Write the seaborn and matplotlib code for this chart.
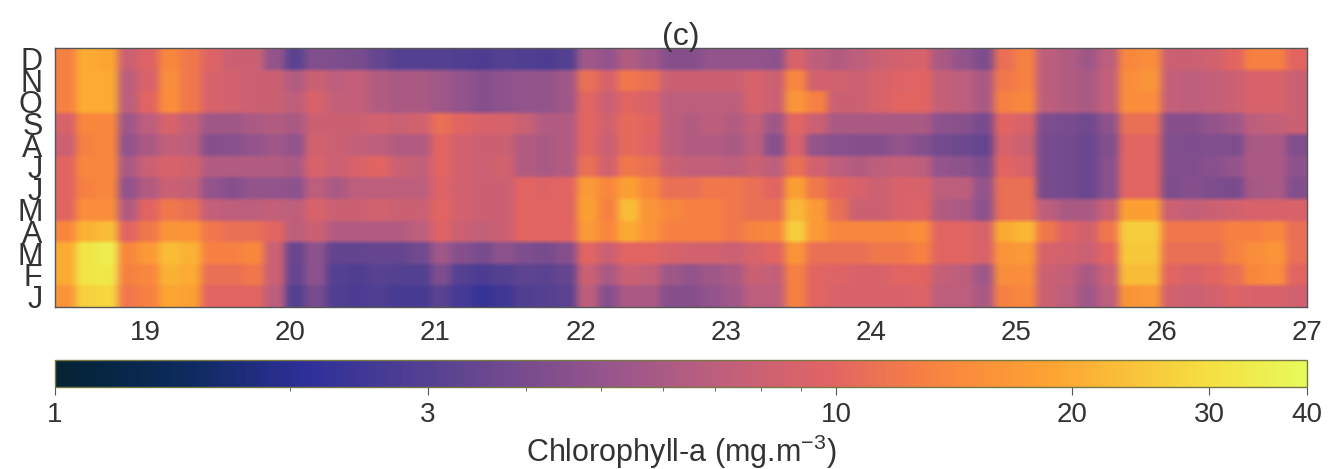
import seaborn as sns
import matplotlib.pyplot as plt
import pandas as pd
import numpy as np
from matplotlib.colors import LogNorm, LinearSegmentedColormap

months = ['D', 'N', 'O', 'S', 'A', 'J', 'J', 'M', 'A', 'M', 'F', 'J']
lat_ticks = [19, 20, 21, 22, 23, 24, 25, 26, 27]
lat_start = 18.38
lat_end = 27.0
cbar_ticks = [1, 3, 10, 20, 30, 40]

# one line per latitude band, months run D..J (top to bottom)
chl_bands = [
    [13, 13, 13, 9, 8, 10, 10, 10, 14, 20, 20, 16],
    [20, 20, 20, 14, 13, 14, 13, 15, 21, 32, 32, 27],
    [19, 20, 20, 14, 14, 14, 14, 15, 23, 35, 33, 28],
    [8, 7, 7, 5.5, 5, 6, 5, 6.5, 10, 14, 13, 12],
    [9.5, 9, 10, 7, 6, 8, 6.5, 10, 12, 17, 14, 13],
    [14, 15, 15, 9, 7.5, 9, 8, 12, 16, 23, 21, 19],
    [12, 12, 12, 7.5, 7, 8.5, 7.5, 11, 16, 21, 20, 18],
    [9.5, 9, 9, 5.5, 4.5, 6.5, 5, 7.5, 12, 13, 11, 10],
    [8, 8.5, 8.5, 5.5, 4.6, 6.5, 4.5, 7, 11, 13, 11, 10],
    [8, 8, 8, 6, 5, 6.5, 5, 7, 11, 14, 12, 10],
    [5, 8, 8, 6.5, 5.5, 6.5, 5, 7.5, 10, 8, 8, 7],
    [3.2, 6.5, 7, 6, 5, 6, 4.8, 7, 7, 3.6, 3.5, 3],
    [4.3, 8, 9, 8, 8.5, 9, 7, 9, 8, 4.8, 4.8, 4],
    [4.2, 7, 7.5, 8, 8, 8, 6, 8, 6.5, 3.4, 3, 2.9],
    [4, 7.5, 7.5, 8, 7.5, 9, 7, 8, 6.5, 3.4, 2.9, 2.8],
    [3.5, 6.5, 6.5, 8.5, 7, 10, 7, 8.5, 6.5, 3.5, 3.1, 2.9],
    [3, 6, 6, 8, 6.5, 8, 7, 8, 6.5, 3.5, 3, 2.7],
    [3, 6, 6, 8.5, 6.5, 7.5, 7, 8, 7, 3.8, 3, 2.7],
    [3, 5.5, 5.5, 11, 10, 10, 9.5, 10, 9.5, 5.5, 4.2, 3.2],
    [2.9, 5, 5, 10, 8.5, 8.5, 8.5, 8.5, 8, 4.5, 3, 2.6],
    [2.8, 4.5, 4.5, 9, 8, 8, 8, 8, 7.5, 4, 2.8, 2.3],
    [3, 4.8, 4.8, 9, 8, 8.5, 8, 8, 8, 4.8, 3, 2.5],
    [2.9, 5, 5, 8, 6.5, 6.5, 10, 10, 10, 4.2, 3.3, 2.9],
    [2.8, 5, 5, 6.5, 6, 6, 9.5, 10, 10, 4, 3.2, 3],
    [3, 5.5, 5.5, 6.5, 6.5, 6.5, 10, 10, 10, 4.5, 3.5, 3.2],
    [5.5, 11, 10, 10, 10, 11, 17, 18, 17, 10, 8, 7],
    [5, 9, 8, 8.5, 8, 8.5, 14, 13, 14, 8, 6, 4.5],
    [6.5, 12, 10, 10.5, 10.5, 12, 18, 23, 20, 10, 8, 6],
    [5.5, 11, 9, 10, 9.5, 11, 14, 16, 16, 10, 7.5, 6],
    [4.5, 8, 7, 7, 7, 8, 11, 14, 13, 9, 5.5, 4.5],
    [4.5, 8, 7, 6.5, 6.5, 7.5, 11, 13, 13, 8.5, 5, 4.5],
    [5, 8, 7, 7, 6.5, 7.5, 12, 13, 13, 8.5, 5.5, 5],
    [5, 8, 7, 6.5, 6, 7, 12, 12, 12, 8, 6, 5.5],
    [5, 9, 9, 7.5, 7, 8, 11, 11, 13.5, 9, 8, 7],
    [4.8, 8, 8, 5.5, 4.6, 7, 10, 11, 14, 10, 7.5, 7],
    [9, 14, 16, 10, 9, 11, 18, 22, 26, 16, 13, 13],
    [7, 8.5, 13, 8, 5, 8.5, 12, 17, 17, 11, 10, 10],
    [6.5, 8.5, 8, 6, 4.6, 7, 10, 11, 14, 11, 9.5, 9],
    [7, 8, 8, 6, 4.5, 6.5, 9, 8, 14, 11, 9, 9],
    [8, 9, 9, 6, 4.5, 7, 8, 8, 14, 12, 9, 9],
    [8.5, 9.5, 10, 6, 5, 7.5, 9, 9, 14, 12, 10, 9],
    [9, 10, 10, 6, 4.5, 7, 9, 9.5, 15, 13, 10, 9.5],
    [6, 7.5, 7.5, 4.8, 3.9, 5, 7, 6.5, 10, 10, 7.5, 7],
    [5, 7, 7, 4.6, 3.7, 4.8, 7, 6, 10, 10, 7, 7],
    [4.2, 6, 6, 4, 3.5, 4.2, 5, 4.8, 9, 9, 5.5, 6],
    [11, 12, 13, 10, 9, 10, 11, 11, 20, 16, 15, 13],
    [13, 13, 14, 9, 8, 9, 11, 11, 22, 17, 15, 14],
    [7, 7, 7, 4.2, 4, 4, 4, 7, 12, 9, 8, 8],
    [6.5, 6.5, 6.5, 4, 3.9, 3.9, 3.9, 6, 9.5, 8.5, 7.5, 7],
    [5.5, 6, 6, 3.8, 3.6, 3.6, 3.6, 6, 8.5, 8, 6, 5.5],
    [7, 7.5, 7.5, 4.8, 4.4, 4.6, 4.6, 8, 12, 10, 8, 7],
    [14, 15, 15, 11, 10, 10, 10, 18, 26, 25, 23, 16],
    [15, 16, 15, 11, 10, 10, 10, 18, 26, 25, 23, 17],
    [8, 7.5, 7.5, 4.5, 4.3, 4.4, 4.2, 8, 12, 11, 10, 8.5],
    [8, 7, 7, 4.5, 4.2, 4.3, 4.5, 7.5, 12, 11, 9, 8],
    [8.5, 7.5, 7.5, 5, 4.3, 4.6, 4.2, 8, 12, 11, 10, 8.5],
    [10, 8, 8, 5.5, 4.2, 5, 4.1, 8.5, 13, 13, 11, 9.5],
    [13, 9, 9, 7, 6, 6, 5.8, 9, 13, 15, 14, 9],
    [13, 9, 9, 7.5, 6, 6, 6, 9, 14, 16, 15, 9],
    [10, 8, 8, 8, 4.3, 4.8, 4.4, 9, 11, 11, 10, 8.5],
]

# cmocean "thermal" look, not installed here so anchors
thermal = LinearSegmentedColormap.from_list('thermal_like', [
    (0.0, '#042333'), (0.1, '#0c2a5c'), (0.2, '#2f2f9a'), (0.3, '#554191'),
    (0.44, '#96558c'), (0.53, '#be5f7d'), (0.62, '#e16464'), (0.7, '#f88241'),
    (0.8, '#fda532'), (0.92, '#f5de41'), (1.0, '#e8fa5b'),
])


def box_blur(img, size, axis):
    kernel = np.ones(size) / size
    return np.apply_along_axis(lambda m: np.convolve(m, kernel, mode='same'), axis, img)


def soften(img, dpi):
    # the reference is a soft scan: blur only how the mesh is drawn, keep its edges
    alpha = img[..., 3].copy()
    out = img.copy()
    weight = alpha.copy()
    rgb = img[..., :3] * alpha[..., None]
    for size, axis in [(9, 1), (9, 1), (5, 0)]:
        rgb = box_blur(rgb, size, axis)
        weight = box_blur(weight, size, axis)
    out[..., :3] = rgb / np.maximum(weight[..., None], 1e-3)
    out[..., 3] = alpha
    return out, 0, 0


sns.set_theme(style="white")
plt.rcParams['font.family'] = ['Liberation Sans', 'DejaVu Sans']
plt.rcParams['mathtext.default'] = 'regular'
text_col = '#333333'

data = pd.DataFrame(np.array(chl_bands).T)

fig = plt.figure(figsize=(13.32, 4.69), dpi=100)
ax = fig.add_axes([55 / 1332, 1 - 307 / 469, 1252 / 1332, 259 / 469])
cax = fig.add_axes([55 / 1332, 1 - 387 / 469, 1252 / 1332, 27 / 469])

sns.heatmap(data, ax=ax, cmap=thermal, norm=LogNorm(vmin=1, vmax=40), cbar_ax=cax,
            cbar_kws={'orientation': 'horizontal'}, xticklabels=False, yticklabels=False,
            linewidths=0)
ax.collections[0].set_agg_filter(soften)

n_bands = data.shape[1]
ax.set_xticks([(t - lat_start) / (lat_end - lat_start) * n_bands for t in lat_ticks])
ax.set_xticklabels(lat_ticks, fontsize=20, color=text_col)
ax.set_yticks(np.arange(12) + 0.5)
ax.set_yticklabels(months, fontsize=22, color=text_col, rotation=0)
ax.tick_params(axis='x', length=0, pad=9)
ax.tick_params(axis='y', length=0, pad=9)
ax.set_title('(c)', fontsize=23, color=text_col, pad=2)
for s in ax.spines.values():
    s.set_visible(True)
    s.set_color('#555555')
    s.set_linewidth(1)

cb = ax.collections[0].colorbar
cb.set_ticks(cbar_ticks)
cb.set_ticklabels([str(t) for t in cbar_ticks])
cb.ax.tick_params(which='major', length=6, width=0.8, color='#555555', labelsize=20,
                  labelcolor=text_col, pad=5, bottom=True)
cb.ax.tick_params(which='minor', length=3, width=0.6, color='#555555', bottom=True)
cb.outline.set_edgecolor('#777744')
cb.outline.set_linewidth(1)
cb.set_label('Chlorophyll-a (mg.m$^{-3}$)', fontsize=22, color=text_col, labelpad=3)

fig.savefig('out.png', dpi=100)
